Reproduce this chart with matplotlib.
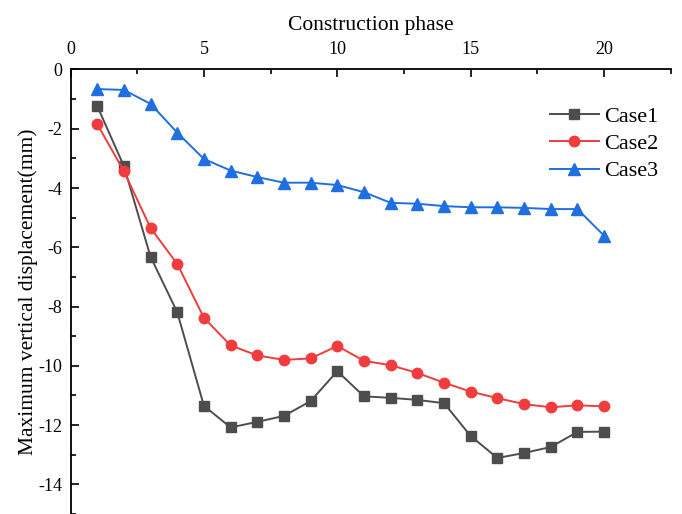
import matplotlib
matplotlib.use("Agg")
import matplotlib.pyplot as plt
from matplotlib.ticker import MultipleLocator

plt.rcParams['font.family'] = ['Liberation Serif', 'DejaVu Serif']
plt.rcParams['axes.unicode_minus'] = False

phase = list(range(1, 21))
case1 = [-1.23, -3.26, -6.32, -8.19, -11.35, -12.08, -11.89, -11.69, -11.19, -10.18,
         -11.03, -11.08, -11.15, -11.26, -12.37, -13.11, -12.94, -12.74, -12.23, -12.22]
case2 = [-1.84, -3.43, -5.35, -6.56, -8.38, -9.31, -9.65, -9.80, -9.75, -9.33,
         -9.83, -9.98, -10.24, -10.57, -10.87, -11.09, -11.29, -11.40, -11.33, -11.37]
case3 = [-0.66, -0.69, -1.16, -2.13, -3.02, -3.41, -3.63, -3.82, -3.82, -3.90,
         -4.14, -4.50, -4.53, -4.61, -4.65, -4.65, -4.67, -4.71, -4.71, -5.61]
labels = ['Case1', 'Case2', 'Case3']

fig = plt.figure(figsize=(6.82, 5.14), dpi=100)
ax = fig.add_axes([0.1034, 0.0, 0.8802, 0.8648])

ax.plot(phase, case1, color='#4d4d4d', marker='s', markersize=7, lw=1.4, label=labels[0])
ax.plot(phase, case2, color='#f03c3c', marker='o', markersize=7.5, lw=1.4, label=labels[1])
ax.plot(phase, case3, color='#1f6fe0', marker='^', markersize=8, lw=1.4, label=labels[2])

ax.set_xlim(0, 22.5)
ax.set_ylim(-15, 0)
ax.xaxis.set_ticks_position('top')
ax.xaxis.set_label_position('top')
ax.spines['right'].set_visible(False)
ax.spines['bottom'].set_visible(False)
for s in ('left', 'top'):
    ax.spines[s].set_linewidth(1.3)

ax.set_xticks([0, 5, 10, 15, 20])
ax.xaxis.set_minor_locator(MultipleLocator(2.5))
ax.set_yticks([0, -2, -4, -6, -8, -10, -12, -14])
ax.yaxis.set_minor_locator(MultipleLocator(1))
ax.tick_params(which='both', direction='in', width=1.2, labelsize=13)
ax.tick_params(which='major', length=6)
ax.tick_params(which='minor', length=3.5)
ax.tick_params(axis='x', pad=8)
ax.tick_params(axis='y', pad=5.8)

ax.set_xlabel('Construction phase', fontsize=15.5, labelpad=8)
ax.set_ylabel('Maximum vertical displacement(mm)', fontsize=15.5, labelpad=0)

ax.legend(loc='upper left', bbox_to_anchor=(0.784, 0.937), frameon=False,
          fontsize=16, handlelength=2.2, handletextpad=0.25, labelspacing=0.3,
          borderaxespad=0)

fig.savefig('out.png', dpi=100)
